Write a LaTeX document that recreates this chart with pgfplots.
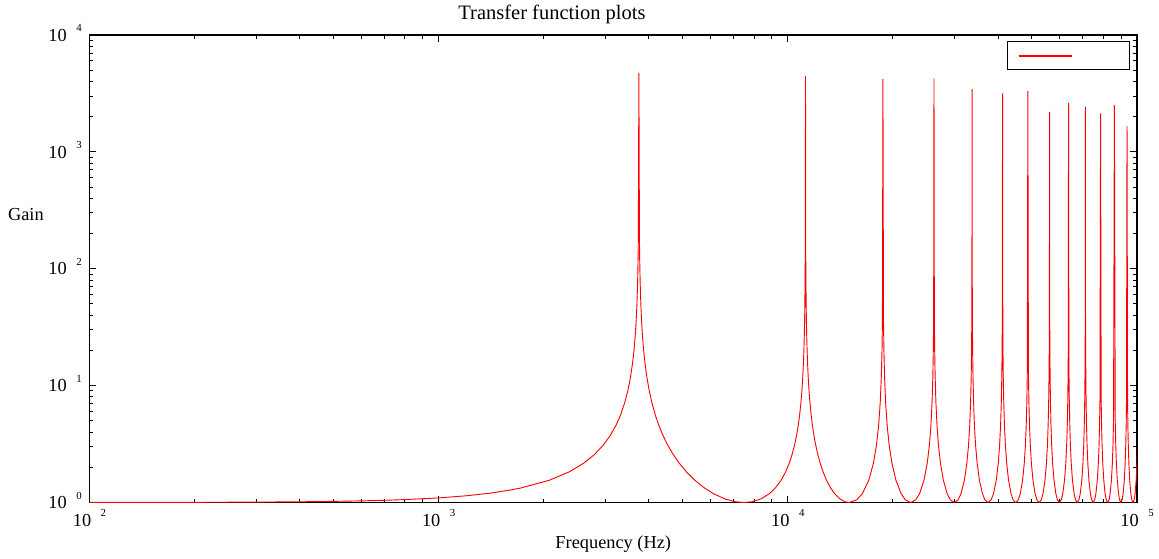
\documentclass[border=0pt]{standalone}
\usepackage{fontspec}
\setmainfont{Liberation Serif}
\usepackage{pgfplots}
\pgfplotsset{compat=1.18}
\newcommand{\tl}[1]{10\hspace{0.52em}\raisebox{0.52em}{\fontsize{6.5pt}{6.5pt}\selectfont #1}}
\begin{document}
\begin{tikzpicture}
\useasboundingbox (-53.7pt,-33.3pt) rectangle (641.7pt,301.5pt);
\begin{axis}[
 at={(0pt,0pt)}, anchor=south west,
 scale only axis, width=628.5pt, height=280.5pt,
 xmode=log, ymode=log, xmin=100, xmax=100000, ymin=1, ymax=10000,
 xtick={100,1000,10000,100000}, xticklabels={\tl{2},\tl{3},\tl{4},\tl{5}},
 ytick={1,10,100,1000,10000}, yticklabels={\tl{0},\tl{1},\tl{2},\tl{3},\tl{4}},
 tick label style={font=\fontsize{11pt}{13pt}\selectfont},
 label style={font=\fontsize{11pt}{13pt}\selectfont},
 title style={font=\fontsize{12.3pt}{14pt}\selectfont},
 xticklabel style={anchor=base, inner sep=0pt, yshift=-14.4pt},
 yticklabel style={anchor=base east, inner sep=0pt, xshift=-4.5pt, yshift=-3.7pt},
 xlabel={Frequency (Hz)},
 xlabel style={at={(axis description cs:0.5,0)}, anchor=base, yshift=-27.3pt},
 every axis title shift=0pt,
 title={Transfer function plots},
 title style={at={(axis description cs:0.4415,1)}, anchor=base, yshift=9pt},
 ylabel={Gain},
 ylabel style={rotate=-90, at={(axis description cs:0,0.615)}, anchor=east, inner sep=0pt, xshift=-27.3pt},
 axis line style={line width=0.9pt, black},
 major tick length=4.2pt, minor tick length=2.4pt,
 every tick/.style={black, line width=0.6pt},
 legend style={at={(axis description cs:1,1)}, anchor=north east, xshift=-4.2pt, yshift=-3.6pt,
   draw=black, line width=0.9pt, inner xsep=6.6pt, inner ysep=0pt,
   cells={anchor=west}, nodes={inner sep=0pt}},
 legend image code/.code={},
]
\addplot[red, line width=0.55pt] table {
x y
100 1.0009
200 1.0035
300 1.0080
400 1.0142
500 1.0224
600 1.0325
700 1.0447
800 1.0591
1000 1.0949
1200 1.1416
1400 1.2012
1600 1.2769
1719 1.3311
2076 1.5523
2362 1.8248
2601 2.1655
2791 2.5679
2958 3.086
3101 3.7491
3221 4.5823
3316 5.5857
3411 7.1664
3483 9.1092
3542 11.779
3590 15.396
3626 20.008
3654 26.32
3678 35.72
3697 50
3714 76.9
3726 125
3731 175
3745 4750
3759 175
3764 125
3776 76.9
3793 50
3812 35.72
3836 26.32
3864 20.008
3900 15.396
3948 11.779
4007 9.1092
4079 7.1664
4174 5.5857
4269 4.5823
4389 3.7491
4532 3.086
4699 2.5679
4889 2.1655
5128 1.8248
5414 1.5523
5771 1.3311
6129 1.1884
6606 1.0729
7083 1.0148
7490 1
7897 1.0148
8374 1.0729
8851 1.1884
9209 1.3311
9566 1.5523
9852 1.8248
10091 2.1655
10281 2.5679
10448 3.086
10591 3.7491
10711 4.5823
10806 5.5857
10901 7.1664
10973 9.1092
11032 11.779
11080 15.396
11116 20.008
11144 26.32
11168 35.72
11187 50
11204 76.9
11216 125
11223 194
11235 4450
11247 194
11254 125
11266 76.9
11283 50
11302 35.72
11326 26.32
11354 20.008
11390 15.396
11438 11.779
11497 9.1092
11569 7.1664
11664 5.5857
11759 4.5823
11879 3.7491
12022 3.086
12189 2.5679
12379 2.1655
12618 1.8248
12904 1.5523
13261 1.3311
13619 1.1884
14096 1.0729
14573 1.0148
14980 1
15745 1.0538
16341 1.1884
17056 1.5523
17581 2.1655
17938 3.086
18201 4.582
18391 7.166
18522 11.78
18606 20.01
18657 35
18725 4200
18793 35
18844 20.01
18928 11.78
19059 7.166
19249 4.582
19512 3.086
19869 2.1655
20394 1.5523
21109 1.1884
21705 1.0538
22470 1
23235 1.0538
23831 1.1884
24546 1.5523
25071 2.1655
25428 3.086
25691 4.582
25881 7.166
26012 11.78
26096 20.01
26148 35.72
26155 40
26215 4260
26275 40
26282 35.72
26334 20.01
26418 11.78
26549 7.166
26739 4.582
27002 3.086
27359 2.1655
27884 1.5523
28599 1.1884
29195 1.0538
29960 1
30725 1.0538
31321 1.1884
32036 1.5523
32561 2.1655
32918 3.086
33181 4.582
33371 7.166
33502 11.78
33586 20.01
33638 35.72
33657 50
33661 54
33705 3450
33749 54
33753 50
33772 35.72
33824 20.01
33908 11.78
34039 7.166
34229 4.582
34492 3.086
34849 2.1655
35374 1.5523
36089 1.1884
36685 1.0538
37450 1
38215 1.0538
38811 1.1884
39526 1.5523
40051 2.1655
40408 3.086
40671 4.582
40861 7.166
40992 11.78
41076 20.01
41120 32
41195 3170
41270 32
41314 20.01
41398 11.78
41529 7.166
41719 4.582
41982 3.086
42339 2.1655
42864 1.5523
43579 1.1884
44175 1.0538
44940 1
45705 1.0538
46301 1.1884
47016 1.5523
47541 2.1655
47898 3.086
48161 4.582
48351 7.166
48482 11.78
48508 13.5
48685 3310
48862 13.5
48888 11.78
49019 7.166
49209 4.582
49472 3.086
49829 2.1655
50354 1.5523
51069 1.1884
51665 1.0538
52430 1
53195 1.0538
53791 1.1884
54506 1.5523
55031 2.1655
55388 3.086
55651 4.582
55841 7.166
55972 11.78
56056 20.01
56109 36
56175 2200
56241 36
56294 20.01
56378 11.78
56509 7.166
56699 4.582
56962 3.086
57319 2.1655
57844 1.5523
58559 1.1884
59155 1.0538
59920 1
60685 1.0538
61281 1.1884
61996 1.5523
62521 2.1655
62878 3.086
63141 4.582
63331 7.166
63462 11.78
63525 17
63665 2630
63805 17
63868 11.78
63999 7.166
64189 4.582
64452 3.086
64809 2.1655
65334 1.5523
66049 1.1884
66645 1.0538
67410 1
68175 1.0538
68771 1.1884
69486 1.5523
70011 2.1655
70368 3.086
70631 4.582
70821 7.166
70952 11.78
71036 20.01
71088 35.72
71107 50
71133 107
71155 2430
71177 107
71203 50
71222 35.72
71274 20.01
71358 11.78
71489 7.166
71679 4.582
71942 3.086
72299 2.1655
72824 1.5523
73539 1.1884
74135 1.0538
74900 1
75665 1.0538
76261 1.1884
76976 1.5523
77501 2.1655
77858 3.086
78121 4.582
78326 7.5
78645 2135
78964 7.5
79169 4.582
79432 3.086
79789 2.1655
80314 1.5523
81029 1.1884
81625 1.0538
82390 1
83155 1.0538
83751 1.1884
84466 1.5523
84991 2.1655
85348 3.086
85655 5
86135 2513
86615 5
86922 3.086
87279 2.1655
87804 1.5523
88519 1.1884
89115 1.0538
89880 1
90645 1.0538
91241 1.1884
91956 1.5523
92481 2.1655
92838 3.086
93101 4.582
93283 7
93625 1670
93967 7
94149 4.582
94412 3.086
94769 2.1655
95294 1.5523
96009 1.1884
96605 1.0538
97370 1
98135 1.0538
98731 1.1884
99446 1.5523
99971 2.1655
100328 3.086
};
\addlegendentry[text depth=8.4pt]{\rule{0pt}{8.4pt}\textcolor{red}{\rule[-0.5pt]{32pt}{1pt}}\makebox[27.8pt]{}}
\end{axis}
\end{tikzpicture}
\end{document}
